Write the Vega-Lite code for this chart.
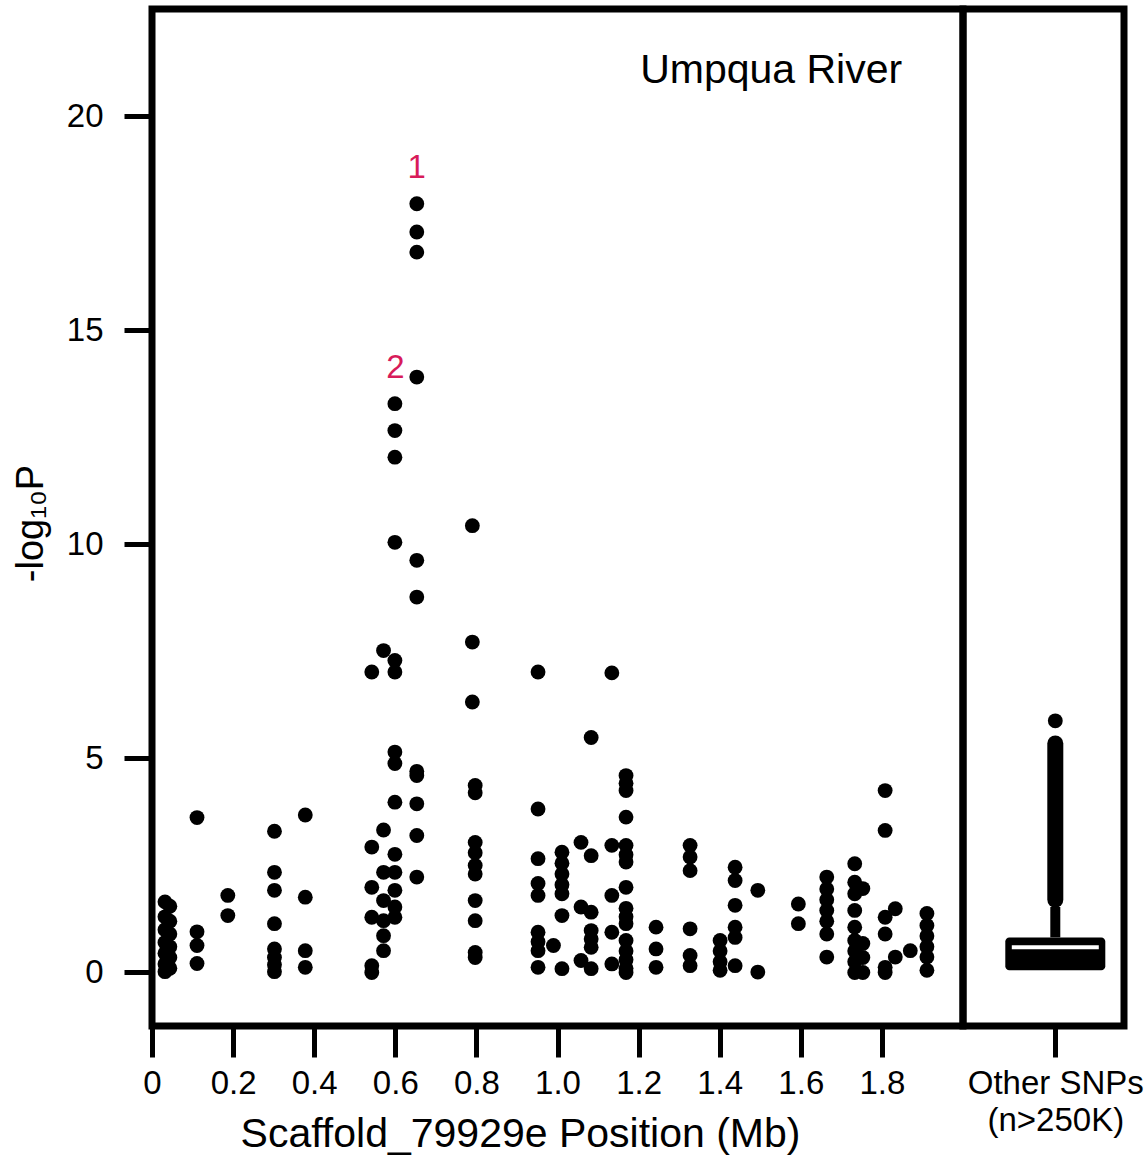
{
  "$schema": "https://vega.github.io/schema/vega-lite/v6.json",
  "padding": {"left": 8, "top": 5, "right": 26, "bottom": 5},
  "spacing": 0,
  "bounds": "flush",
  "config": {
    "font": "Liberation Sans",
    "view": {"stroke": "black", "strokeWidth": 7},
    "axis": {
      "domain": false,
      "grid": false,
      "ticks": true,
      "tickColor": "black",
      "tickWidth": 5,
      "labelFont": "Liberation Sans",
      "labelFontSize": 33,
      "labelColor": "black",
      "titleFont": "Liberation Sans",
      "titleFontWeight": "normal",
      "titleColor": "black"
    }
  },
  "datasets": {
    "snps": [
      {"pos": 0.032, "logp": 1.65}, {"pos": 0.032, "logp": 1.3}, {"pos": 0.032, "logp": 1.0}, {"pos": 0.032, "logp": 0.7}, {"pos": 0.032, "logp": 0.45}, {"pos": 0.032, "logp": 0.2}, {"pos": 0.032, "logp": 0.02},
      {"pos": 0.044, "logp": 1.55}, {"pos": 0.044, "logp": 1.2}, {"pos": 0.044, "logp": 0.9}, {"pos": 0.044, "logp": 0.6}, {"pos": 0.044, "logp": 0.35}, {"pos": 0.044, "logp": 0.1},
      {"pos": 0.111, "logp": 3.62}, {"pos": 0.111, "logp": 0.95}, {"pos": 0.111, "logp": 0.63}, {"pos": 0.111, "logp": 0.21},
      {"pos": 0.187, "logp": 1.8}, {"pos": 0.187, "logp": 1.33},
      {"pos": 0.302, "logp": 3.3}, {"pos": 0.302, "logp": 2.34}, {"pos": 0.302, "logp": 1.92}, {"pos": 0.302, "logp": 1.14}, {"pos": 0.302, "logp": 0.55}, {"pos": 0.302, "logp": 0.35}, {"pos": 0.302, "logp": 0.18}, {"pos": 0.302, "logp": 0.02},
      {"pos": 0.378, "logp": 3.68}, {"pos": 0.378, "logp": 1.76}, {"pos": 0.378, "logp": 0.51}, {"pos": 0.378, "logp": 0.12},
      {"pos": 0.542, "logp": 7.02}, {"pos": 0.542, "logp": 2.93}, {"pos": 0.542, "logp": 1.99}, {"pos": 0.542, "logp": 1.29}, {"pos": 0.542, "logp": 0.16}, {"pos": 0.542, "logp": 0.0},
      {"pos": 0.571, "logp": 7.52}, {"pos": 0.571, "logp": 3.33}, {"pos": 0.571, "logp": 2.34}, {"pos": 0.571, "logp": 1.68}, {"pos": 0.571, "logp": 1.21}, {"pos": 0.571, "logp": 0.86}, {"pos": 0.571, "logp": 0.51},
      {"pos": 0.599, "logp": 13.29}, {"pos": 0.599, "logp": 12.66}, {"pos": 0.599, "logp": 12.04}, {"pos": 0.599, "logp": 10.05}, {"pos": 0.599, "logp": 7.29}, {"pos": 0.599, "logp": 7.02}, {"pos": 0.599, "logp": 5.15}, {"pos": 0.599, "logp": 4.88}, {"pos": 0.599, "logp": 3.98}, {"pos": 0.599, "logp": 2.76}, {"pos": 0.599, "logp": 2.34}, {"pos": 0.599, "logp": 1.92}, {"pos": 0.599, "logp": 1.53}, {"pos": 0.599, "logp": 1.29},
      {"pos": 0.653, "logp": 17.96}, {"pos": 0.653, "logp": 17.3}, {"pos": 0.653, "logp": 16.83}, {"pos": 0.653, "logp": 13.91}, {"pos": 0.653, "logp": 9.63}, {"pos": 0.653, "logp": 8.77}, {"pos": 0.653, "logp": 4.7}, {"pos": 0.653, "logp": 4.6}, {"pos": 0.653, "logp": 3.94}, {"pos": 0.653, "logp": 3.2}, {"pos": 0.653, "logp": 2.23},
      {"pos": 0.79, "logp": 10.44}, {"pos": 0.79, "logp": 7.72}, {"pos": 0.79, "logp": 6.32},
      {"pos": 0.797, "logp": 4.37}, {"pos": 0.797, "logp": 4.2}, {"pos": 0.797, "logp": 3.04}, {"pos": 0.797, "logp": 2.8}, {"pos": 0.797, "logp": 2.5}, {"pos": 0.797, "logp": 2.3}, {"pos": 0.797, "logp": 1.68}, {"pos": 0.797, "logp": 1.21}, {"pos": 0.797, "logp": 0.47}, {"pos": 0.797, "logp": 0.35},
      {"pos": 0.952, "logp": 7.02}, {"pos": 0.952, "logp": 3.82}, {"pos": 0.952, "logp": 2.66}, {"pos": 0.952, "logp": 2.08}, {"pos": 0.952, "logp": 1.8}, {"pos": 0.952, "logp": 0.94}, {"pos": 0.952, "logp": 0.72}, {"pos": 0.952, "logp": 0.51}, {"pos": 0.952, "logp": 0.12},
      {"pos": 0.99, "logp": 0.63},
      {"pos": 1.011, "logp": 2.81}, {"pos": 1.011, "logp": 2.55}, {"pos": 1.011, "logp": 2.3}, {"pos": 1.011, "logp": 2.05}, {"pos": 1.011, "logp": 1.84}, {"pos": 1.011, "logp": 1.33}, {"pos": 1.011, "logp": 0.09},
      {"pos": 1.058, "logp": 3.04}, {"pos": 1.058, "logp": 1.53}, {"pos": 1.058, "logp": 0.28},
      {"pos": 1.083, "logp": 5.49}, {"pos": 1.083, "logp": 2.73}, {"pos": 1.083, "logp": 1.41}, {"pos": 1.083, "logp": 0.98}, {"pos": 1.083, "logp": 0.78}, {"pos": 1.083, "logp": 0.59}, {"pos": 1.083, "logp": 0.09},
      {"pos": 1.134, "logp": 7.0}, {"pos": 1.134, "logp": 2.97}, {"pos": 1.134, "logp": 1.8}, {"pos": 1.134, "logp": 0.94}, {"pos": 1.134, "logp": 0.2},
      {"pos": 1.169, "logp": 4.6}, {"pos": 1.169, "logp": 4.42}, {"pos": 1.169, "logp": 4.25}, {"pos": 1.169, "logp": 3.63}, {"pos": 1.169, "logp": 2.97}, {"pos": 1.169, "logp": 2.75}, {"pos": 1.169, "logp": 2.58}, {"pos": 1.169, "logp": 1.99}, {"pos": 1.169, "logp": 1.5}, {"pos": 1.169, "logp": 1.3}, {"pos": 1.169, "logp": 1.14}, {"pos": 1.169, "logp": 0.75}, {"pos": 1.169, "logp": 0.5}, {"pos": 1.169, "logp": 0.3}, {"pos": 1.169, "logp": 0.1}, {"pos": 1.169, "logp": 0.0},
      {"pos": 1.243, "logp": 1.06}, {"pos": 1.243, "logp": 0.55}, {"pos": 1.243, "logp": 0.12},
      {"pos": 1.327, "logp": 2.97}, {"pos": 1.327, "logp": 2.7}, {"pos": 1.327, "logp": 2.38}, {"pos": 1.327, "logp": 1.02}, {"pos": 1.327, "logp": 0.4}, {"pos": 1.327, "logp": 0.16},
      {"pos": 1.401, "logp": 0.75}, {"pos": 1.401, "logp": 0.5}, {"pos": 1.401, "logp": 0.25}, {"pos": 1.401, "logp": 0.05},
      {"pos": 1.438, "logp": 2.46}, {"pos": 1.438, "logp": 2.15}, {"pos": 1.438, "logp": 1.57}, {"pos": 1.438, "logp": 1.06}, {"pos": 1.438, "logp": 0.82}, {"pos": 1.438, "logp": 0.16},
      {"pos": 1.494, "logp": 1.92}, {"pos": 1.494, "logp": 0.01},
      {"pos": 1.594, "logp": 1.6}, {"pos": 1.594, "logp": 1.14},
      {"pos": 1.664, "logp": 2.23}, {"pos": 1.664, "logp": 1.95}, {"pos": 1.664, "logp": 1.7}, {"pos": 1.664, "logp": 1.45}, {"pos": 1.664, "logp": 1.2}, {"pos": 1.664, "logp": 0.9}, {"pos": 1.664, "logp": 0.36},
      {"pos": 1.733, "logp": 2.54}, {"pos": 1.733, "logp": 2.11}, {"pos": 1.733, "logp": 1.84}, {"pos": 1.733, "logp": 1.45}, {"pos": 1.733, "logp": 1.06}, {"pos": 1.733, "logp": 0.75}, {"pos": 1.733, "logp": 0.5}, {"pos": 1.733, "logp": 0.25}, {"pos": 1.733, "logp": 0.0},
      {"pos": 1.753, "logp": 1.96}, {"pos": 1.753, "logp": 0.68}, {"pos": 1.753, "logp": 0.35}, {"pos": 1.753, "logp": 0.0},
      {"pos": 1.808, "logp": 4.25}, {"pos": 1.808, "logp": 3.32}, {"pos": 1.808, "logp": 1.29}, {"pos": 1.808, "logp": 0.9}, {"pos": 1.808, "logp": 0.12}, {"pos": 1.808, "logp": 0.0},
      {"pos": 1.833, "logp": 1.49}, {"pos": 1.833, "logp": 0.36},
      {"pos": 1.87, "logp": 0.51},
      {"pos": 1.911, "logp": 1.38}, {"pos": 1.911, "logp": 1.1}, {"pos": 1.911, "logp": 0.85}, {"pos": 1.911, "logp": 0.6}, {"pos": 1.911, "logp": 0.36}, {"pos": 1.911, "logp": 0.05}
    ],
    "peaks": [
      {"pos": 0.653, "logp": 18.79, "rank": "1"},
      {"pos": 0.6, "logp": 14.12, "rank": "2"}
    ],
    "site": [
      {"pos": 1.85, "logp": 21.07, "name": "Umpqua River"}
    ],
    "other": [
      {"group": "Other SNPs", "q1": 0.05, "median": 0.59, "q3": 0.82, "whisker_hi": 1.53, "outlier_lo": 1.7, "outlier_hi": 5.35, "outlier_max": 5.88}
    ]
  },
  "hconcat": [
    {
      "width": 811,
      "height": 1017,
      "layer": [
        {
          "data": {"name": "snps"},
          "mark": {"type": "circle", "size": 220, "color": "black", "opacity": 1},
          "encoding": {
            "x": {
              "field": "pos",
              "type": "quantitative",
              "scale": {"domain": [0, 2.0], "nice": false, "zero": false},
              "axis": {
                "values": [0, 0.2, 0.4, 0.6, 0.8, 1.0, 1.2, 1.4, 1.6, 1.8],
                "labelExpr": "datum.value == 0 ? '0' : format(datum.value, '.1f')",
                "tickSize": 31,
                "labelPadding": 10,
                "labelFlush": false,
                "labelOverlap": false,
                "title": "Scaffold_79929e Position (Mb)",
                "titleFontSize": 41,
                "titleX": 368,
                "titleY": 108,
                "titleAlign": "center",
                "titleBaseline": "middle"
              }
            },
            "y": {
              "field": "logp",
              "type": "quantitative",
              "scale": {"domain": [-1.25, 22.51], "nice": false, "zero": false},
              "axis": {
                "values": [0, 5, 10, 15, 20],
                "tickSize": 28,
                "labelPadding": 21,
                "title": "-log₁₀P",
                "titleFontSize": 38,
                "titleAngle": -90,
                "titleX": -121,
                "titleY": 514,
                "titleAlign": "center",
                "titleBaseline": "middle"
              }
            }
          }
        },
        {
          "data": {"name": "peaks"},
          "mark": {"type": "text", "fontSize": 33, "color": "#d81b5a", "align": "center", "baseline": "middle"},
          "encoding": {
            "x": {"field": "pos", "type": "quantitative"},
            "y": {"field": "logp", "type": "quantitative"},
            "text": {"field": "rank"}
          }
        },
        {
          "data": {"name": "site"},
          "mark": {"type": "text", "fontSize": 41, "color": "black", "align": "right", "baseline": "middle"},
          "encoding": {
            "x": {"field": "pos", "type": "quantitative"},
            "y": {"field": "logp", "type": "quantitative"},
            "text": {"field": "name"}
          }
        }
      ]
    },
    {
      "width": 161,
      "height": 1017,
      "data": {"name": "other"},
      "encoding": {
        "x": {
          "field": "group",
          "type": "nominal",
          "scale": {"type": "point", "range": [0, 184.6]},
          "axis": {
            "labelExpr": "['Other SNPs', '(n>250K)']",
            "labelAngle": 0,
            "labelLineHeight": 37,
            "tickSize": 31,
            "labelPadding": 10,
            "title": null
          }
        }
      },
      "layer": [
        {
          "mark": {"type": "rule", "strokeWidth": 16, "strokeCap": "round", "color": "black"},
          "encoding": {
            "y": {"field": "outlier_lo", "type": "quantitative", "scale": {"domain": [-1.25, 22.51], "nice": false, "zero": false}, "axis": null},
            "y2": {"field": "outlier_hi"}
          }
        },
        {
          "mark": {"type": "rule", "strokeWidth": 10, "color": "black"},
          "encoding": {
            "y": {"field": "q3", "type": "quantitative"},
            "y2": {"field": "whisker_hi"}
          }
        },
        {
          "mark": {"type": "circle", "size": 220, "color": "black", "opacity": 1},
          "encoding": {
            "y": {"field": "outlier_max", "type": "quantitative"}
          }
        },
        {
          "mark": {"type": "bar", "width": 100, "color": "black", "cornerRadius": 4},
          "encoding": {
            "y": {"field": "q1", "type": "quantitative"},
            "y2": {"field": "q3"}
          }
        },
        {
          "mark": {"type": "tick", "orient": "horizontal", "size": 87, "thickness": 4, "color": "white", "opacity": 1},
          "encoding": {
            "y": {"field": "median", "type": "quantitative"}
          }
        }
      ]
    }
  ]
}
